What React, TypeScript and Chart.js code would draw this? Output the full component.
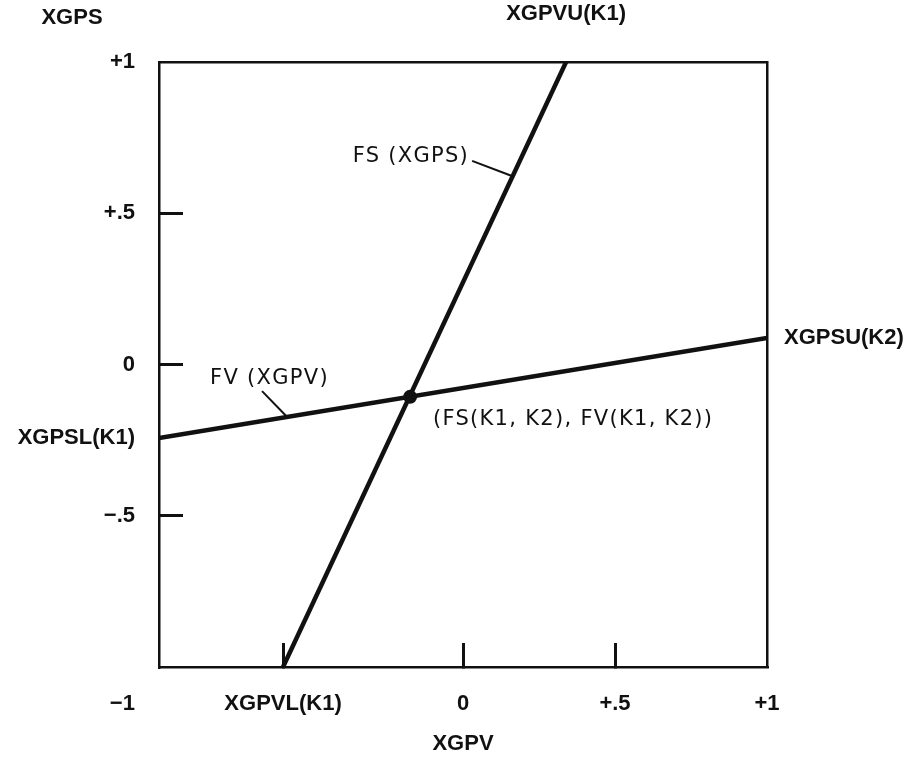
import React, { useEffect, useRef } from "react";
import { Chart, registerables } from "chart.js";

Chart.register(...registerables);

// ---- data ----
const FS_X = [-0.592, 0.339];
const FS_Y = [-1, 1];
const FV_X = [-1, 1];
const FV_Y = [-0.243, 0.088];
const POINT_X = [-0.174];
const POINT_Y = [-0.107];
const FS_LEADER_X = [0.03, 0.161];
const FS_LEADER_Y = [0.673, 0.623];
const FV_LEADER_X = [-0.661, -0.58];
const FV_LEADER_Y = [-0.088, -0.172];

const X_TICKS = [-1, -0.592, 0, 0.5, 1];
const X_LABELS = ["\u22121            ", "XGPVL(K1)", "0", "+.5", "+1"];
const X_MARKS = [-0.592, 0, 0.5];
const Y_TICKS = [1, 0.5, 0, -0.243, -0.5];
const Y_LABELS = ["+1", "+.5", "0", "XGPSL(K1)", "\u2212.5"];
const Y_MARKS = [0.5, 0, -0.5];
const TOP_TICKS = [0.339];
const TOP_LABELS = ["XGPVU(K1)"];
const RIGHT_TICKS = [0.088];
const RIGHT_LABELS = ["XGPSU(K2)"];

const X_TITLE = "XGPV";
const Y_TITLE = "XGPS";
const FS_TEXT = "FS (XGPS)";
const FV_TEXT = "FV (XGPV)";
const POINT_TEXT = "(FS(K1, K2), FV(K1, K2))";

const INK = "#111";
const AXIS_FONT = { family: "'Liberation Sans', Arial, sans-serif", size: 22, weight: "bold" as const };

const pts = (xs: number[], ys: number[]) => xs.map((x, i) => ({ x, y: ys[i] }));

const annotationPlugin = {
  id: "textAnnotations",
  afterDatasetsDraw(chart: any) {
    const { ctx, chartArea, scales } = chart;
    const sx = scales.x;
    const sy = scales.y;
    ctx.save();
    ctx.fillStyle = INK;
    ctx.textBaseline = "middle";
    ctx.font = "21px 'DejaVu Sans', sans-serif";
    (ctx as any).letterSpacing = "1.3px";
    ctx.textAlign = "right";
    ctx.fillText(FS_TEXT, sx.getPixelForValue(0.02), sy.getPixelForValue(0.686));
    ctx.textAlign = "left";
    ctx.fillText(FV_TEXT, sx.getPixelForValue(-0.832), sy.getPixelForValue(-0.045));
    ctx.fillText(POINT_TEXT, sx.getPixelForValue(-0.099), sy.getPixelForValue(-0.183));
    (ctx as any).letterSpacing = "0px";
    ctx.font = `bold ${AXIS_FONT.size}px ${AXIS_FONT.family}`;
    ctx.textAlign = "center";
    ctx.fillText(Y_TITLE, chartArea.left - 87, chartArea.top - 44);
    ctx.restore();
  },
};

const tickGrid = (marks: number[]) => ({
  display: true,
  drawOnChartArea: false,
  drawTicks: true,
  tickLength: -24,
  lineWidth: 3,
  color: (c: any) => (c.tick && marks.includes(c.tick.value) ? INK : "rgba(0,0,0,0)"),
});

const border = { display: true, width: 2.5, color: INK };

export default function App() {
  const ref = useRef<HTMLCanvasElement | null>(null);

  useEffect(() => {
    if (!ref.current) return;
    const chart = new Chart(ref.current, {
      type: "scatter",
      data: {
        datasets: [
          {
            data: pts(FS_X, FS_Y),
            showLine: true,
            borderColor: INK,
            borderWidth: 4.5,
            pointRadius: 0,
          },
          {
            data: pts(FV_X, FV_Y),
            showLine: true,
            borderColor: INK,
            borderWidth: 4.5,
            pointRadius: 0,
          },
          {
            data: pts(FS_LEADER_X, FS_LEADER_Y),
            showLine: true,
            borderColor: INK,
            borderWidth: 2,
            pointRadius: 0,
          },
          {
            data: pts(FV_LEADER_X, FV_LEADER_Y),
            showLine: true,
            borderColor: INK,
            borderWidth: 2,
            pointRadius: 0,
          },
          {
            data: pts(POINT_X, POINT_Y),
            showLine: false,
            pointRadius: 7,
            pointBackgroundColor: INK,
            pointBorderWidth: 0,
          },
        ],
      },
      options: {
        animation: false,
        responsive: true,
        maintainAspectRatio: false,
        layout: { padding: 0 },
        plugins: {
          legend: { display: false },
          tooltip: { enabled: false },
        },
        scales: {
          x: {
            type: "linear",
            position: "bottom",
            min: -1,
            max: 1,
            afterFit: (s: any) => {
              s.height = 90;
            },
            afterBuildTicks: (s: any) => {
              s.ticks = X_TICKS.map((value) => ({ value }));
            },
            ticks: {
              autoSkip: false,
              maxRotation: 0,
              minRotation: 0,
              padding: 48,
              color: INK,
              font: AXIS_FONT,
              callback: (_v: any, i: number) => X_LABELS[i],
            },
            grid: tickGrid(X_MARKS),
            border,
            title: {
              display: true,
              text: X_TITLE,
              color: INK,
              font: AXIS_FONT,
              padding: { top: 0, bottom: 0 },
            },
          },
          x2: {
            type: "linear",
            position: "top",
            min: -1,
            max: 1,
            afterFit: (s: any) => {
              s.height = 62;
            },
            afterBuildTicks: (s: any) => {
              s.ticks = TOP_TICKS.map((value) => ({ value }));
            },
            ticks: {
              autoSkip: false,
              maxRotation: 0,
              minRotation: 0,
              padding: 27,
              color: INK,
              font: AXIS_FONT,
              callback: (_v: any, i: number) => TOP_LABELS[i],
            },
            grid: { display: false },
            border,
          },
          y: {
            type: "linear",
            position: "left",
            min: -1,
            max: 1,
            afterFit: (s: any) => {
              s.width = 159;
            },
            afterBuildTicks: (s: any) => {
              s.ticks = Y_TICKS.map((value) => ({ value }));
            },
            ticks: {
              autoSkip: false,
              padding: 48,
              color: INK,
              font: AXIS_FONT,
              callback: (_v: any, i: number) => Y_LABELS[i],
            },
            grid: tickGrid(Y_MARKS),
            border,
          },
          y2: {
            type: "linear",
            position: "right",
            min: -1,
            max: 1,
            afterFit: (s: any) => {
              s.width = 155;
            },
            afterBuildTicks: (s: any) => {
              s.ticks = RIGHT_TICKS.map((value) => ({ value }));
            },
            ticks: {
              autoSkip: false,
              padding: 9,
              color: INK,
              font: AXIS_FONT,
              callback: (_v: any, i: number) => RIGHT_LABELS[i],
            },
            grid: { display: false },
            border,
          },
        },
      } as any,
      plugins: [annotationPlugin],
    });
    return () => chart.destroy();
  }, []);

  return (
    <div style={{ position: "fixed", left: 0, top: 0, width: 922, height: 757, background: "#fff" }}>
      <canvas ref={ref} />
    </div>
  );
}
